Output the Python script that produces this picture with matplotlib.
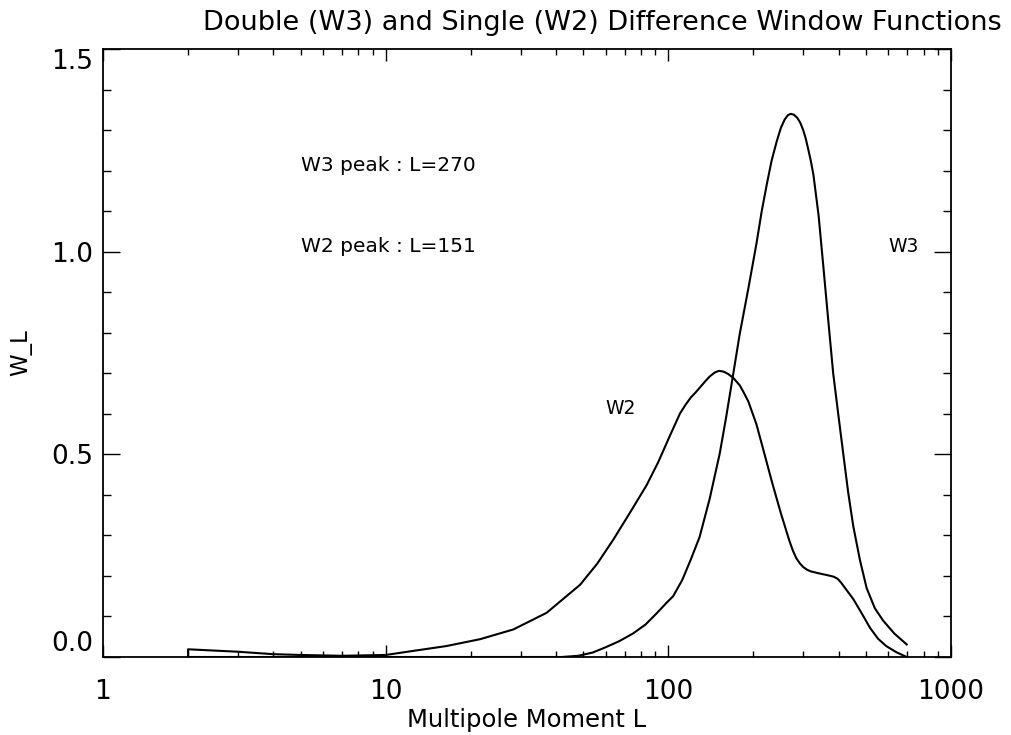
import matplotlib
matplotlib.use("Agg")
import matplotlib.pyplot as plt
from matplotlib.ticker import FixedLocator, MultipleLocator, FuncFormatter, LogLocator, NullFormatter

plt.rcParams['font.family'] = ['DejaVu Sans']

# W3 : double difference window function
L_w3 = [2, 10, 30, 42, 48, 54, 60, 67, 75, 83, 91, 98, 104, 112, 120, 129,
        140, 152, 160, 168, 179, 192, 205, 214, 223, 232, 242, 250, 258, 265,
        271, 278, 286, 293, 300, 306, 312, 319, 326, 340, 353, 368, 383, 399,
        416, 433, 451, 476, 503, 538, 575, 630, 697]
W3 = [0.0, 0.0, 0.0, 0.0, 0.003, 0.011, 0.024, 0.039, 0.058, 0.08, 0.108,
      0.132, 0.15, 0.19, 0.24, 0.296, 0.39, 0.502, 0.59, 0.68, 0.798, 0.91,
      1.02, 1.10, 1.166, 1.225, 1.273, 1.305, 1.326, 1.337, 1.34, 1.338,
      1.33, 1.318, 1.30, 1.28, 1.255, 1.225, 1.19, 1.09, 0.968, 0.83, 0.70,
      0.60, 0.50, 0.405, 0.323, 0.24, 0.17, 0.12, 0.09, 0.058, 0.031]

# W2 : single difference window function
L_w2 = [2, 2, 3, 4, 5, 7, 10, 12.5, 16.4, 21.6, 28.3, 37.1, 48.7, 56, 63.8,
        73, 83.8, 92, 101, 110, 115, 120, 125, 129, 135, 140, 146, 151, 157,
        163, 170, 179, 185, 192, 205, 219, 233, 250, 268, 276, 284, 292, 300,
        310, 320, 343, 370, 385, 397, 408, 420, 451, 483, 517, 552, 590, 640,
        697]
W2 = [0.0, 0.019, 0.013, 0.007, 0.005, 0.003, 0.005, 0.015, 0.027, 0.044,
      0.068, 0.109, 0.178, 0.23, 0.289, 0.355, 0.424, 0.48, 0.544, 0.601,
      0.622, 0.64, 0.653, 0.664, 0.68, 0.692, 0.702, 0.706, 0.704, 0.698,
      0.688, 0.67, 0.652, 0.63, 0.574, 0.50, 0.430, 0.355, 0.287, 0.262,
      0.243, 0.231, 0.222, 0.215, 0.211, 0.206, 0.201, 0.198, 0.193, 0.184,
      0.172, 0.143, 0.108, 0.072, 0.045, 0.027, 0.012, 0.0]

x_ticks = [1, 10, 100, 1000]
y_ticks = [0.0, 0.5, 1.0, 1.5]

fig = plt.figure(figsize=(10.12, 7.35), dpi=100)
ax = fig.add_axes([103/1012, 78/735, 848/1012, 608/735])

ax.plot(L_w3, W3, color='black', lw=1.5)
ax.plot(L_w2, W2, color='black', lw=1.5)

ax.set_xscale('log')
ax.set_xlim(1, 1000)
ax.set_ylim(0, 1.5)

ax.xaxis.set_major_locator(FixedLocator(x_ticks))
ax.xaxis.set_major_formatter(FuncFormatter(lambda v, p: "%d" % v))
ax.xaxis.set_minor_locator(LogLocator(base=10, subs=range(2, 10)))
ax.xaxis.set_minor_formatter(NullFormatter())
ax.yaxis.set_major_locator(FixedLocator(y_ticks))
ax.yaxis.set_major_formatter(FuncFormatter(lambda v, p: "%.1f" % v))
ax.yaxis.set_minor_locator(MultipleLocator(0.1))

for s in ax.spines.values():
    s.set_linewidth(1.3)

ax.tick_params(axis='both', which='both', direction='in', top=True, right=True,
               width=1.0, labelsize=19)
ax.tick_params(axis='x', which='major', length=8.6, pad=16)
ax.tick_params(axis='x', which='minor', length=4.3)
ax.tick_params(axis='y', which='major', length=12.2, pad=7)
ax.tick_params(axis='y', which='minor', length=6.1)

# keep end labels inside the frame like IDL does
ylabs = ax.get_yticklabels()
ylabs[0].set_va('bottom')
ylabs[-1].set_va('top')

ax.set_xlabel("Multipole Moment L", fontsize=17.5)
ax.xaxis.label.set_va('baseline')
ax.xaxis.set_label_coords(0.5, (657 - 726.7) / 608)
ax.set_ylabel("W_L", fontsize=16.5)
ax.yaxis.label.set_va('center')
ax.yaxis.set_label_coords((21 - 103) / 848, 0.5)

fig.text(602/1012, (735 - 30)/735, "Double (W3) and Single (W2) Difference Window Functions",
         ha='center', va='baseline', fontsize=19.5)

ax.text(5, 1.2, "W3 peak : L=270", fontsize=14.5, va='baseline')
ax.text(5, 1.0, "W2 peak : L=151", fontsize=14.5, va='baseline')
ax.text(60, 0.6, "W2", fontsize=13.5, va='baseline')
ax.text(600, 1.0, "W3", fontsize=13.5, va='baseline')

fig.savefig("out.png", dpi=100)
